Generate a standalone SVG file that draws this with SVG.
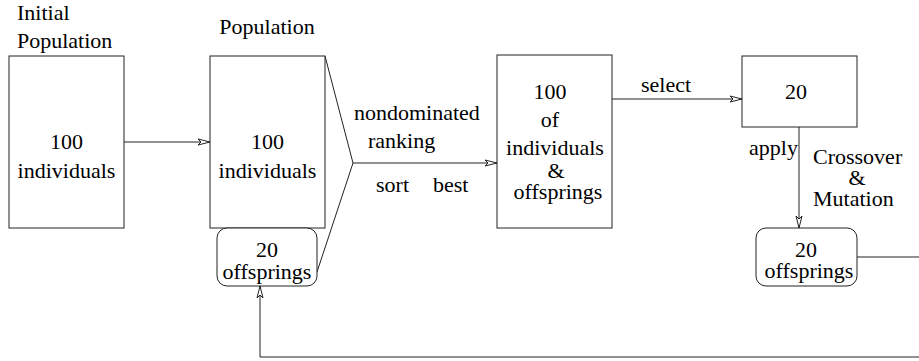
<svg xmlns="http://www.w3.org/2000/svg" width="919" height="361" viewBox="0 0 919 361">
<defs>
<style>
.box{fill:#fff;stroke:#222;stroke-width:1}
.ln{fill:none;stroke:#222;stroke-width:1}
text{font-family:"Liberation Serif",Tinos,"DejaVu Serif",serif;font-size:22px}
.c{text-anchor:middle}
</style>
<marker id="ah" markerUnits="userSpaceOnUse" markerWidth="14" markerHeight="8" viewBox="-13 -4 14 8" refX="0" refY="0" orient="auto">
<path d="M-12,-3 L0,0 L-12,3 L-9,0 Z" fill="#fff" stroke="#222" stroke-width="1"/>
</marker>
</defs>
<rect width="919" height="361" fill="#fff"/>
<g id="connectors">
<path class="ln" d="M124,142 H210" marker-end="url(#ah)"/>
<path class="ln" d="M325,56 L353,163 L317,272"/>
<path class="ln" d="M353,163 H497" marker-end="url(#ah)"/>
<path class="ln" d="M612,99 H742" marker-end="url(#ah)"/>
<path class="ln" d="M799,127 V228" marker-end="url(#ah)"/>
<path class="ln" d="M857,257 H930 V357 H260 V286" marker-end="url(#ah)"/>
<text x="354" y="120">nondominated</text>
<text x="368" y="148">ranking</text>
<text x="376" y="192">sort</text>
<text x="433" y="192">best</text>
<text x="641" y="92">select</text>
<text x="749" y="155">apply</text>
<text x="813" y="164">Crossover</text>
<text x="857" y="185" class="c">&amp;</text>
<text x="813" y="206">Mutation</text>
</g>
<g id="initial">
<text x="17" y="20">Initial</text>
<text x="17" y="48">Population</text>
<rect class="box" x="9" y="56" width="115" height="172"/>
<text x="66.5" y="149" class="c">100</text>
<text x="66.5" y="178" class="c">individuals</text>
</g>
<g id="population">
<text x="267" y="34" class="c">Population</text>
<rect class="box" x="210" y="56" width="115" height="172"/>
<text x="267.5" y="149" class="c">100</text>
<text x="267.5" y="178" class="c">individuals</text>
</g>
<g id="offsprings1">
<rect class="box" x="217" y="228" width="100" height="58" rx="10"/>
<text x="267" y="257" class="c">20</text>
<text x="267" y="279" class="c">offsprings</text>
</g>
<g id="best">
<rect class="box" x="497" y="55" width="115" height="173"/>
<text x="550" y="99" class="c">100</text>
<text x="550" y="127" class="c">of</text>
<text x="555" y="155" class="c">individuals</text>
<text x="556" y="178" class="c">&amp;</text>
<text x="558" y="199" class="c">offsprings</text>
</g>
<g id="selected">
<rect class="box" x="742" y="56" width="115" height="71"/>
<text x="796" y="99" class="c">20</text>
</g>
<g id="offsprings2">
<rect class="box" x="756" y="228" width="101" height="58" rx="10"/>
<text x="806" y="257" class="c">20</text>
<text x="809" y="278" class="c">offsprings</text>
</g>
</svg>
